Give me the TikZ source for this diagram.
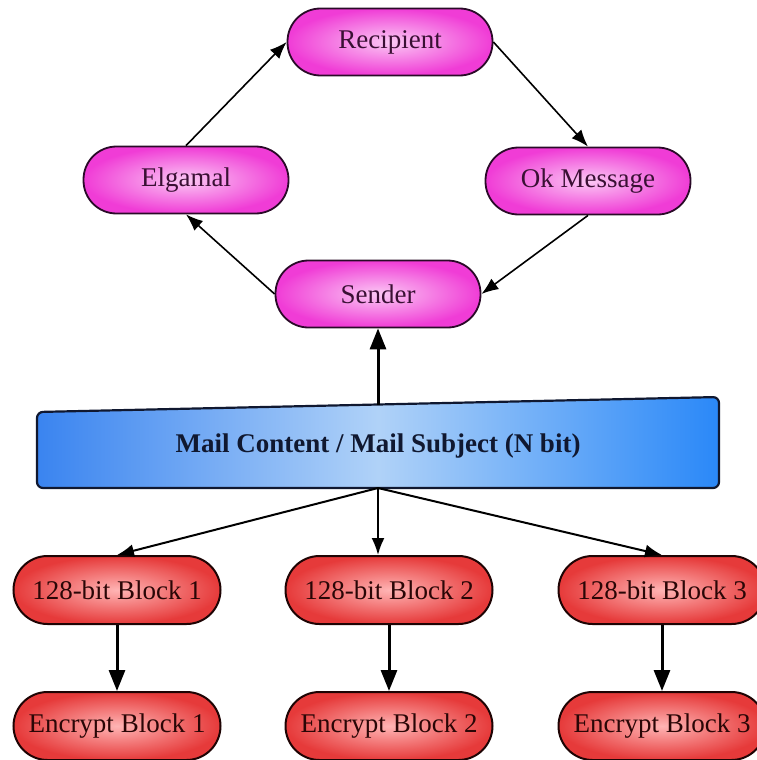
\documentclass[tikz,border=0pt]{standalone}
\usepackage{fontspec}
\setmainfont{Liberation Serif}
\usetikzlibrary{arrows.meta}

\definecolor{pinkout}{HTML}{F03CD6}
\definecolor{pinkin}{HTML}{FBC8F4}
\definecolor{pinkline}{HTML}{2A0A28}
\definecolor{pinktext}{HTML}{3A1034}
\definecolor{redout}{HTML}{E63A3A}
\definecolor{redin}{HTML}{FFB4B4}
\definecolor{redline}{HTML}{1E0404}
\definecolor{redtext}{HTML}{2A0606}
\definecolor{blueleft}{HTML}{3A84F0}
\definecolor{bluemid}{HTML}{B0D2F8}
\definecolor{blueright}{HTML}{2A88F8}
\definecolor{blueline}{HTML}{101830}

\tikzset{
  pinknode/.style={rectangle, rounded corners=33pt, draw=pinkline, line width=1.8pt,
    inner color=pinkin, outer color=pinkout, minimum width=205pt, minimum height=67pt,
    inner xsep=2pt, text=pinktext, font=\fontsize{27}{30}\selectfont},
  rednode/.style={rectangle, rounded corners=34pt, draw=redline, line width=2pt,
    inner color=redin, outer color=redout, minimum width=207pt, minimum height=68pt,
    inner xsep=2pt, text=redtext, font=\fontsize{27}{30}\selectfont},
  thinarrow/.style={-{Latex[length=17pt,width=13pt]}, line width=1.6pt, black},
  thickarrow/.style={-{Triangle[length=21pt,width=16pt]}, line width=3pt, black}
}

\begin{document}
\begin{tikzpicture}[x=1pt, y=-1pt]
  \useasboundingbox (0,0) rectangle (756,760);

  % top ring
  \node[pinknode] (recipient) at (390,42) {Recipient};
  \node[pinknode] (elgamal) at (186,180) {Elgamal};
  \node[pinknode] (okmsg) at (588,181) {Ok Message};
  \node[pinknode] (sender) at (378,294) {Sender};

  \draw[thinarrow] (elgamal.north) -- (recipient.west);
  \draw[thinarrow] (recipient.east) -- (okmsg.north);
  \draw[thinarrow] (okmsg.south) -- (sender.east);
  \draw[thinarrow] (sender.west) -- (elgamal.south);

  % mail box
  \path[draw=blueline, line width=2.2pt, rounded corners=6pt,
        left color=blueleft, right color=blueright, middle color=bluemid]
    (37,412) -- (719,397) -- (719,488) -- (37,488) -- cycle;
  \node[text=blueline, font=\fontsize{27}{30}\selectfont\bfseries] (mail) at (378,446)
    {Mail Content / Mail Subject (N bit)};
  \coordinate (mailtop) at (378,405);
  \coordinate (mailbot) at (378,488);

  \draw[thickarrow] (mailtop) -- (sender.south);

  % blocks
  \node[rednode] (block1) at (117,590) {128-bit Block 1};
  \node[rednode] (block2) at (389,590) {128-bit Block 2};
  \node[rednode] (block3) at (662,590) {128-bit Block 3};

  \node[rednode] (enc1) at (117,726) {Encrypt Block 1};
  \node[rednode] (enc2) at (389,726) {Encrypt Block 2};
  \node[rednode] (enc3) at (662,726) {Encrypt Block 3};

  \draw[thinarrow, line width=2pt] (mailbot) -- (block1.north);
  \draw[thinarrow, line width=2pt] (mailbot) -- (block2.north -| mailbot);
  \draw[thinarrow, line width=2pt] (mailbot) -- (block3.north);

  \draw[thickarrow] (block1) -- (enc1);
  \draw[thickarrow] (block2) -- (enc2);
  \draw[thickarrow] (block3) -- (enc3);
\end{tikzpicture}
\end{document}
